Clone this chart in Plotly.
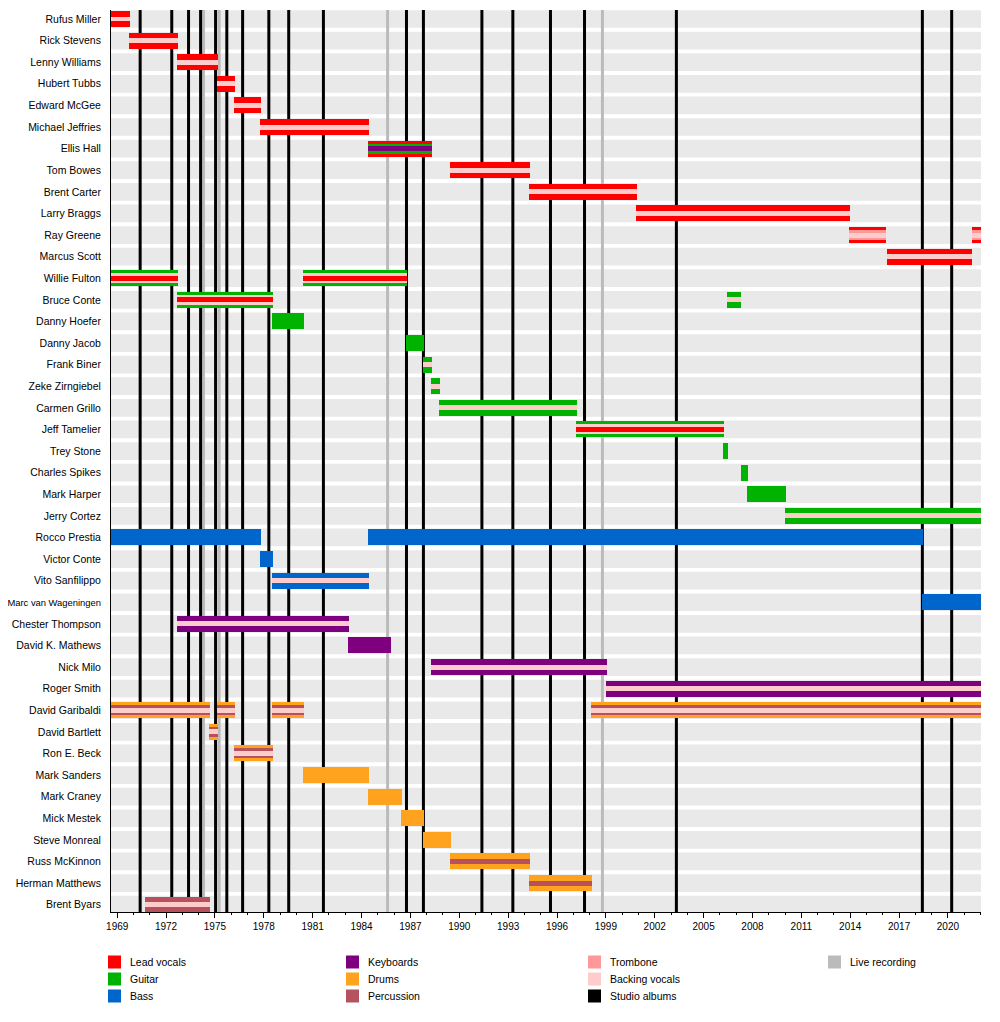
"""
Band member timeline drawn as overlaid horizontal bars
"""
import plotly.graph_objects as go

# Rows, top to bottom
members = [
    "Rufus Miller", "Rick Stevens", "Lenny Williams", "Hubert Tubbs",
    "Edward McGee", "Michael Jeffries", "Ellis Hall", "Tom Bowes",
    "Brent Carter", "Larry Braggs", "Ray Greene", "Marcus Scott",
    "Willie Fulton", "Bruce Conte", "Danny Hoefer", "Danny Jacob",
    "Frank Biner", "Zeke Zirngiebel", "Carmen Grillo", "Jeff Tamelier",
    "Trey Stone", "Charles Spikes", "Mark Harper", "Jerry Cortez",
    "Rocco Prestia", "Victor Conte", "Vito Sanfilippo",
    "Marc van Wageningen", "Chester Thompson", "David K. Mathews",
    "Nick Milo", "Roger Smith", "David Garibaldi", "David Bartlett",
    "Ron E. Beck", "Mark Sanders", "Mark Craney", "Mick Mestek",
    "Steve Monreal", "Russ McKinnon", "Herman Matthews", "Brent Byars",
]

# One entry per stint
stint_member = [
    "Rufus Miller", "Rick Stevens", "Lenny Williams", "Hubert Tubbs",
    "Edward McGee", "Michael Jeffries", "Ellis Hall", "Tom Bowes",
    "Brent Carter", "Larry Braggs", "Ray Greene", "Ray Greene",
    "Marcus Scott", "Willie Fulton", "Willie Fulton", "Bruce Conte",
    "Bruce Conte", "Danny Hoefer", "Danny Jacob", "Frank Biner",
    "Zeke Zirngiebel", "Carmen Grillo", "Jeff Tamelier", "Trey Stone",
    "Charles Spikes", "Mark Harper", "Jerry Cortez", "Rocco Prestia",
    "Rocco Prestia", "Victor Conte", "Vito Sanfilippo",
    "Marc van Wageningen", "Chester Thompson", "David K. Mathews",
    "Nick Milo", "Roger Smith", "David Garibaldi", "David Garibaldi",
    "David Garibaldi", "David Garibaldi", "David Bartlett", "Ron E. Beck",
    "Mark Sanders", "Mark Craney", "Mick Mestek", "Steve Monreal",
    "Russ McKinnon", "Herman Matthews", "Brent Byars",
]
stint_start = [
    1968.6, 1969.74, 1972.68, 1975.14,
    1976.18, 1977.78, 1984.41, 1989.44,
    1994.29, 2000.86, 2013.94, 2021.5,
    2016.27, 1968.6, 1980.42, 1972.68,
    2006.42, 1978.52, 1986.74, 1987.78,
    1988.28, 1988.77, 1997.18, 2006.2,
    2007.3, 2007.67, 2010.0, 1968.6,
    1984.41, 1977.78, 1978.52,
    2018.42, 1972.68, 1983.18,
    1988.28, 1999.0, 1968.6, 1975.14,
    1978.52, 1998.1, 1974.65, 1976.18,
    1980.42, 1984.41, 1986.44, 1987.78,
    1989.44, 1994.29, 1970.72,
]
stint_end = [
    1969.8, 1972.72, 1975.2, 1976.24,
    1977.84, 1984.47, 1988.34, 1994.35,
    2000.92, 2014.0, 2016.2, 2022.1,
    2021.5, 1972.72, 1986.78, 1978.58,
    2007.3, 1980.48, 1987.84, 1988.34,
    1988.83, 1997.24, 2006.27, 2006.49,
    2007.74, 2010.07, 2022.1, 1977.84,
    2018.48, 1978.58, 1984.47,
    2022.1, 1983.24, 1985.82,
    1999.08, 2022.1, 1974.71, 1976.24,
    1980.48, 2022.1, 1975.2, 1978.58,
    1984.47, 1986.5, 1987.84, 1989.5,
    1994.35, 1998.16, 1974.71,
]
LV, BV, GT, BS = "Lead vocals", "Backing vocals", "Guitar", "Bass"
KB, DR, PC, TB = "Keyboards", "Drums", "Percussion", "Trombone"
stint_roles = [
    [LV, BV], [LV, BV], [LV, BV], [LV, BV],
    [LV, BV], [LV, BV], [LV, GT, KB], [LV, BV],
    [LV, BV], [LV, BV], [LV, TB, BV], [LV, TB, BV],
    [LV, BV], [GT, BV, LV], [GT, BV, LV], [GT, BV, LV],
    [GT, BV], [GT], [GT], [GT, BV],
    [GT, BV], [GT, BV], [GT, BV, LV], [GT],
    [GT], [GT], [GT, BV], [BS],
    [BS], [BS], [BS, BV],
    [BS], [KB, BV], [KB],
    [KB, BV], [KB, BV], [DR, PC, BV], [DR, PC, BV],
    [DR, PC, BV], [DR, PC, BV], [DR, PC, BV], [DR, PC, BV],
    [DR], [DR], [DR], [DR],
    [DR, PC], [DR, PC], [PC, BV],
]

studio_albums = [1970.41, 1972.35, 1973.38, 1974.12, 1975.04, 1975.73,
                 1976.7, 1978.31, 1979.53, 1981.66, 1986.76, 1987.8,
                 1991.39, 1993.29, 1995.6, 1997.69, 2003.33, 2018.43,
                 2020.23]
live_albums = [1974.3, 1975.26, 1985.6, 1998.79]

role_colors = {
    "Lead vocals": "#ff0000",
    "Guitar": "#00b300",
    "Bass": "#0066cc",
    "Keyboards": "#7f007f",
    "Drums": "#ffa31f",
    "Percussion": "#b5525d",
    "Trombone": "#ff9999",
    "Backing vocals": "#ffcccc",
    "Studio albums": "#000000",
    "Live recording": "#bbbbbb",
}
legend_columns = [
    ["Lead vocals", "Guitar", "Bass"],
    ["Keyboards", "Drums", "Percussion"],
    ["Trombone", "Backing vocals", "Studio albums"],
    ["Live recording"],
]

X_START, X_END = 1968.62, 2022.03
# the page body adds an 8px offset, so the figure is 8px smaller
PAGE_OFFSET = 8
WIDTH, HEIGHT = 1000 - PAGE_OFFSET, 1022 - PAGE_OFFSET
MARGIN = dict(l=111 - PAGE_OFFSET, r=19, t=10 - PAGE_OFFSET, b=110)
Y_RANGE = [len(members) - 1 + 0.34, -0.417]
FONT = "Liberation Sans, Arial, sans-serif"

# bar thickness (in rows) for the 1st, 2nd, 3rd role of a stint
layer_widths = {1: [0.74], 2: [0.74, 0.23], 3: [0.74, 0.46, 0.23]}

row_of = {name: i for i, name in enumerate(members)}

fig = go.Figure()

# grey row bands, then album lines, all under the bars
shapes = []
for i in range(len(members)):
    shapes.append(dict(type="rect", xref="paper", yref="y", x0=0, x1=1,
                       y0=i - 0.41, y1=i + 0.41, layer="below",
                       fillcolor="#e9e9e9", line_width=0))
for year in live_albums:
    shapes.append(dict(type="line", xref="x", yref="paper", x0=year, x1=year,
                       y0=0, y1=1, layer="below",
                       line=dict(color=role_colors["Live recording"], width=3)))
for year in studio_albums:
    shapes.append(dict(type="line", xref="x", yref="paper", x0=year, x1=year,
                       y0=0, y1=1, layer="below",
                       line=dict(color=role_colors["Studio albums"], width=3)))

# bars: widest layer first so the narrower stripes sit on top
for layer in range(3):
    groups = {}
    for who, start, end, roles in zip(stint_member, stint_start, stint_end,
                                      stint_roles):
        if layer >= len(roles):
            continue
        g = groups.setdefault(roles[layer], {"y": [], "base": [], "x": [],
                                             "w": []})
        g["y"].append(row_of[who])
        g["base"].append(start)
        g["x"].append(end - start)
        g["w"].append(layer_widths[len(roles)][layer])
    for role, g in groups.items():
        fig.add_trace(go.Bar(orientation="h", y=g["y"], x=g["x"],
                             base=g["base"], width=g["w"],
                             marker=dict(color=role_colors[role],
                                         line_width=0),
                             name=role, showlegend=False,
                             hoverinfo="skip"))

# legend below the plot, positions given in screenshot pixels
plot_w = WIDTH - MARGIN["l"] - MARGIN["r"]
plot_h = HEIGHT - MARGIN["t"] - MARGIN["b"]


def px_x(px):
    return (px - PAGE_OFFSET - MARGIN["l"]) / plot_w


def px_y(py):
    return (HEIGHT - MARGIN["b"] - (py - PAGE_OFFSET)) / plot_h


annotations = []
col_x = [108, 346, 588, 828]
row_y = [962, 979, 996]
for cx, items in zip(col_x, legend_columns):
    for ry, label in zip(row_y, items):
        shapes.append(dict(type="rect", xref="paper", yref="paper",
                           x0=px_x(cx), x1=px_x(cx + 13),
                           y0=px_y(ry + 6.5), y1=px_y(ry - 6.5),
                           fillcolor=role_colors[label], line_width=0))
        annotations.append(dict(xref="paper", yref="paper", x=px_x(cx + 20),
                                y=px_y(ry), text=label, showarrow=False,
                                xanchor="left", yanchor="middle",
                                font=dict(size=10.5, color="black")))

# long names get a slightly smaller font so they stay on the page
row_labels = [name if len(name) < 18
              else f'<span style="font-size:9.4px">{name}</span>'
              for name in members]

fig.update_layout(
    width=WIDTH, height=HEIGHT,
    margin=MARGIN,
    barmode="overlay",
    bargap=0,
    plot_bgcolor="white",
    paper_bgcolor="white",
    font=dict(family=FONT, color="black"),
    shapes=shapes,
    annotations=annotations,
    showlegend=False,
)
fig.update_xaxes(
    range=[X_START, X_END], automargin=False,
    tickmode="linear", tick0=1969, dtick=3, tickformat="d",
    ticks="outside", ticklen=5, tickcolor="black", tickwidth=1,
    minor=dict(dtick=1, tick0=1969, ticks="outside", ticklen=2,
               tickcolor="black", showgrid=False),
    showgrid=False, zeroline=False,
    showline=True, linecolor="black", linewidth=1,
    tickfont=dict(size=10),
)
fig.update_yaxes(
    range=Y_RANGE, automargin=False,
    tickmode="array", tickvals=list(range(len(members))), ticktext=row_labels,
    ticks="", ticklabelstandoff=7,
    showgrid=False, zeroline=False,
    showline=True, linecolor="black", linewidth=1,
    tickfont=dict(size=10.5),
)

fig.write_html("out.html")
